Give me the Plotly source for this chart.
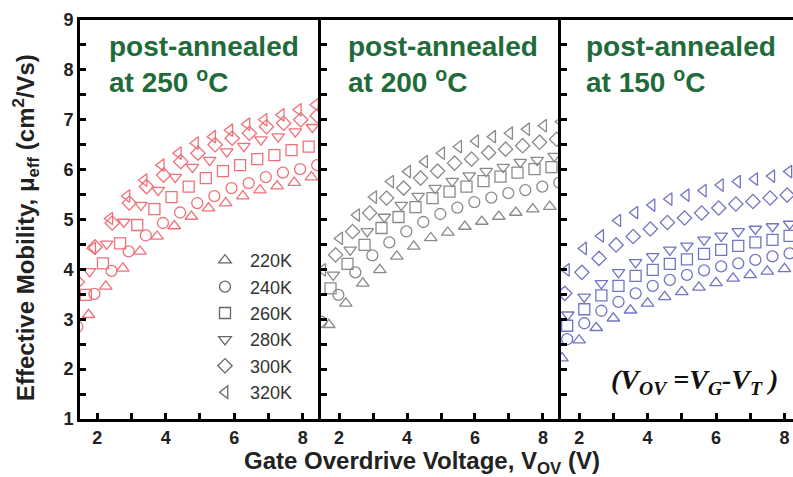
import plotly.graph_objects as go

# ---------------- data ----------------
TEMPS = ["220K", "240K", "260K", "280K", "300K", "320K"]
SYMBOLS = ["triangle-up-open", "circle-open", "square-open",
           "triangle-down-open", "diamond-open", "triangle-left-open"]

# post-annealed at 250 C (red)
V250_220 = [1.75, 2.25, 2.75, 3.25, 3.75, 4.25, 4.75, 5.25, 5.75, 6.25, 6.75, 7.25, 7.75, 8.25]
M250_220 = [3.09, 3.66, 4.02, 4.36, 4.66, 4.87, 5.06, 5.23, 5.33, 5.47, 5.59, 5.67, 5.74, 5.85]
V250_240 = [1.42, 1.92, 2.42, 2.92, 3.42, 3.92, 4.42, 4.92, 5.42, 5.92, 6.42, 6.92, 7.42, 7.92, 8.42]
M250_240 = [2.85, 3.51, 3.97, 4.36, 4.68, 4.93, 5.14, 5.33, 5.47, 5.63, 5.73, 5.85, 5.94, 6.01, 6.09]
V250_260 = [1.67, 2.17, 2.67, 3.17, 3.67, 4.17, 4.67, 5.17, 5.67, 6.17, 6.67, 7.17, 7.67, 8.17]
M250_260 = [3.49, 4.12, 4.52, 4.89, 5.21, 5.45, 5.66, 5.83, 5.97, 6.09, 6.21, 6.29, 6.39, 6.46]
V250_280 = [1.78, 2.28, 2.78, 3.28, 3.78, 4.28, 4.78, 5.28, 5.78, 6.28, 6.78, 7.28, 7.78, 8.28]
M250_280 = [3.96, 4.51, 4.95, 5.29, 5.59, 5.85, 6.05, 6.19, 6.36, 6.47, 6.60, 6.66, 6.76, 6.85]
V250_300 = [1.42, 1.94, 2.44, 2.94, 3.44, 3.94, 4.44, 4.94, 5.44, 5.94, 6.44, 6.94, 7.44, 7.94, 8.42]
M250_300 = [3.75, 4.45, 4.93, 5.33, 5.66, 5.89, 6.16, 6.33, 6.50, 6.63, 6.73, 6.86, 6.93, 7.00, 7.08]
V250_320 = [1.87, 2.37, 2.87, 3.37, 3.87, 4.37, 4.87, 5.37, 5.87, 6.37, 6.87, 7.37, 7.87, 8.37]
M250_320 = [4.42, 5.02, 5.47, 5.79, 6.09, 6.33, 6.53, 6.66, 6.79, 6.91, 7.00, 7.10, 7.20, 7.30]

# post-annealed at 200 C (gray)
V200_220 = [1.70, 2.20, 2.70, 3.20, 3.70, 4.20, 4.70, 5.20, 5.70, 6.20, 6.70, 7.20, 7.70, 8.20]
M200_220 = [2.89, 3.32, 3.72, 3.99, 4.26, 4.46, 4.63, 4.74, 4.86, 4.96, 5.06, 5.14, 5.21, 5.26]
V200_240 = [1.48, 1.98, 2.48, 2.98, 3.48, 3.98, 4.48, 4.98, 5.48, 5.98, 6.48, 6.98, 7.48, 7.98, 8.48]
M200_240 = [2.95, 3.49, 3.94, 4.28, 4.54, 4.76, 4.95, 5.11, 5.24, 5.35, 5.44, 5.53, 5.59, 5.66, 5.74]
V200_260 = [1.75, 2.25, 2.75, 3.25, 3.75, 4.25, 4.75, 5.25, 5.75, 6.25, 6.75, 7.25, 7.75, 8.25]
M200_260 = [3.62, 4.11, 4.49, 4.83, 5.05, 5.25, 5.43, 5.56, 5.66, 5.77, 5.86, 5.94, 6.01, 6.05]
V200_280 = [1.83, 2.33, 2.83, 3.33, 3.83, 4.33, 4.83, 5.33, 5.83, 6.33, 6.83, 7.33, 7.83, 8.33]
M200_280 = [3.89, 4.39, 4.76, 5.05, 5.29, 5.47, 5.63, 5.77, 5.88, 5.97, 6.05, 6.15, 6.19, 6.27]
V200_300 = [1.90, 2.40, 2.90, 3.40, 3.90, 4.40, 4.90, 5.40, 5.90, 6.40, 6.90, 7.40, 7.90, 8.40]
M200_300 = [4.29, 4.76, 5.13, 5.43, 5.63, 5.83, 5.97, 6.13, 6.21, 6.34, 6.41, 6.48, 6.55, 6.61]
V200_320 = [1.52, 2.02, 2.52, 3.02, 3.52, 4.02, 4.52, 5.02, 5.52, 6.02, 6.52, 7.02, 7.52, 8.02, 8.52]
M200_320 = [3.99, 4.62, 5.09, 5.45, 5.76, 5.96, 6.16, 6.33, 6.46, 6.57, 6.66, 6.73, 6.81, 6.88, 6.96]

# post-annealed at 150 C (blue)
V150_220 = [1.50, 2.00, 2.50, 3.00, 3.50, 4.00, 4.50, 5.00, 5.50, 6.00, 6.50, 7.00, 7.50, 8.00]
M150_220 = [2.22, 2.58, 2.83, 3.02, 3.18, 3.32, 3.45, 3.55, 3.64, 3.73, 3.82, 3.89, 3.96, 4.01]
V150_240 = [1.65, 2.15, 2.65, 3.15, 3.65, 4.15, 4.65, 5.15, 5.65, 6.15, 6.65, 7.15, 7.65, 8.15]
M150_240 = [2.60, 2.92, 3.17, 3.35, 3.52, 3.67, 3.79, 3.89, 3.98, 4.06, 4.12, 4.19, 4.26, 4.32]
V150_260 = [1.65, 2.15, 2.65, 3.15, 3.65, 4.15, 4.65, 5.15, 5.65, 6.15, 6.65, 7.15, 7.65, 8.15]
M150_260 = [2.87, 3.20, 3.48, 3.67, 3.87, 3.99, 4.11, 4.20, 4.31, 4.39, 4.47, 4.54, 4.59, 4.67]
V150_280 = [1.67, 2.15, 2.65, 3.15, 3.65, 4.15, 4.65, 5.15, 5.65, 6.15, 6.65, 7.15, 7.65, 8.15]
M150_280 = [3.09, 3.45, 3.72, 3.94, 4.14, 4.26, 4.39, 4.47, 4.59, 4.67, 4.76, 4.81, 4.86, 4.91]
V150_300 = [1.58, 2.08, 2.58, 3.08, 3.58, 4.08, 4.58, 5.08, 5.58, 6.08, 6.58, 7.08, 7.58, 8.08]
M150_300 = [3.52, 3.94, 4.22, 4.49, 4.66, 4.81, 4.94, 5.03, 5.13, 5.23, 5.31, 5.36, 5.43, 5.49]
V150_320 = [1.63, 2.13, 2.63, 3.13, 3.63, 4.13, 4.63, 5.13, 5.63, 6.13, 6.63, 7.13, 7.63, 8.13]
M150_320 = [3.99, 4.42, 4.67, 4.98, 5.14, 5.29, 5.41, 5.49, 5.58, 5.69, 5.76, 5.81, 5.87, 5.96]

PANEL_LABELS = ["post-annealed<br>at 250 <sup>o</sup>C",
                "post-annealed<br>at 200 <sup>o</sup>C",
                "post-annealed<br>at 150 <sup>o</sup>C"]
PANEL_COLORS = ["#f07078", "#8a8a8a", "#7474c4"]
X_TICKS = [2, 4, 6, 8]
Y_TICKS = [1, 2, 3, 4, 5, 6, 7, 8, 9]

panels = [
    [(V250_220, M250_220), (V250_240, M250_240), (V250_260, M250_260),
     (V250_280, M250_280), (V250_300, M250_300), (V250_320, M250_320)],
    [(V200_220, M200_220), (V200_240, M200_240), (V200_260, M200_260),
     (V200_280, M200_280), (V200_300, M200_300), (V200_320, M200_320)],
    [(V150_220, M150_220), (V150_240, M150_240), (V150_260, M150_260),
     (V150_280, M150_280), (V150_300, M150_300), (V150_320, M150_320)],
]

FONT = "Liberation Sans, Arial, sans-serif"
fig = go.Figure()

for p, series in enumerate(panels):
    xa = "x" if p == 0 else f"x{p+1}"
    ya = "y" if p == 0 else f"y{p+1}"
    for s, (xs, ys) in enumerate(series):
        fig.add_trace(go.Scatter(
            x=xs, y=ys, mode="markers", xaxis=xa, yaxis=ya, showlegend=False,
            marker=dict(symbol=SYMBOLS[s], size=11, color=PANEL_COLORS[p],
                        line=dict(width=1.3, color=PANEL_COLORS[p])),
        ))

# legend-only entries (gray symbols)
for s, t in enumerate(TEMPS):
    fig.add_trace(go.Scatter(
        x=[None], y=[None], mode="markers", name=t, xaxis="x", yaxis="y",
        marker=dict(symbol=SYMBOLS[s], size=11, color="#666666",
                    line=dict(width=1.3, color="#666666")),
    ))

W, H = 793, 477
ml, mr, mt, mb = 80, 0, 20, 58
pw = W - ml - mr
ph = H - mt - mb
b1 = (321 - ml) / pw
b2 = (561 - ml) / pw

axis_common = dict(showline=True, linewidth=3, linecolor="black", mirror=True,
                   ticks="inside", ticklen=6, tickwidth=2.5, tickcolor="black",
                   showgrid=False, zeroline=False,
                   tickfont=dict(family=FONT, size=18, color="#222", weight="bold"))

xranges = [[1.5, 8.53], [1.47, 8.53], [1.47, 8.25]]
domains = [[0, b1], [b1, b2], [b2, 1]]
for p in range(3):
    key = "xaxis" if p == 0 else f"xaxis{p+1}"
    yk = "yaxis" if p == 0 else f"yaxis{p+1}"
    fig.layout[key] = dict(axis_common, domain=domains[p], range=xranges[p],
                           anchor="y" if p == 0 else f"y{p+1}",
                           tickmode="array", tickvals=X_TICKS,
                           minor=dict(ticks="inside", ticklen=6, tickwidth=2.5,
                                      tickcolor="black", dtick=1, tick0=1))
    fig.layout[yk] = dict(axis_common, range=[1, 9], domain=[0, 1],
                          anchor="x" if p == 0 else f"x{p+1}",
                          tickmode="array", tickvals=Y_TICKS,
                          showticklabels=(p == 0), mirror=False,
                          minor=dict(ticks="inside", ticklen=6, tickwidth=2.5,
                                     tickcolor="black", dtick=0.5, tick0=0.5))

annotations = []
text_x = [(107 - 80) / 241, (346 - 321) / 240, (584 - 561) / 232]
for p in range(3):
    annotations.append(dict(
        text="<b>" + PANEL_LABELS[p] + "</b>", showarrow=False, align="left",
        xref=("x" if p == 0 else f"x{p+1}") + " domain", yref="paper",
        x=text_x[p], y=1 - (65 - mt) / ph, xanchor="left", yanchor="middle",
        font=dict(family=FONT, size=28, color="#1f6b3a"),
    ))
annotations.append(dict(
    text="<b><i>(V<sub>OV</sub> =V<sub>G</sub>-V<sub>T</sub> )</i></b>",
    showarrow=False, xref="paper", yref="paper",
    x=(694 - ml) / pw, y=1 - (381 - mt) / ph, xanchor="center", yanchor="middle",
    font=dict(family="Liberation Serif, Times New Roman, serif", size=28, color="#111"),
))
annotations.append(dict(
    text="<b>Gate Overdrive Voltage, V<sub>OV</sub> (V)</b>", showarrow=False,
    xref="paper", yref="paper", x=(422 - ml) / pw, y=1 - (462 - mt) / ph,
    xanchor="center", yanchor="middle",
    font=dict(family=FONT, size=24, color="#222"),
))
annotations.append(dict(
    text="<b>Effective Mobility, μ<sub>eff</sub> (cm<sup>2</sup>/Vs)</b>", showarrow=False,
    xref="paper", yref="paper", x=(26 - ml) / pw, y=1 - (228 - mt) / ph,
    xanchor="center", yanchor="middle", textangle=-90,
    font=dict(family=FONT, size=24, color="#222"),
))

fig.update_layout(
    width=W, height=H, margin=dict(l=ml, r=mr, t=mt, b=mb),
    paper_bgcolor="white", plot_bgcolor="white",
    annotations=annotations,
    showlegend=True,
    legend=dict(x=(200 - ml) / pw, y=1 - (242 - mt) / ph,
                xanchor="left", yanchor="top", bgcolor="rgba(0,0,0,0)",
                font=dict(family=FONT, size=18, color="#333"),
                itemwidth=40, tracegroupgap=0),
)

fig.write_html("out.html")
